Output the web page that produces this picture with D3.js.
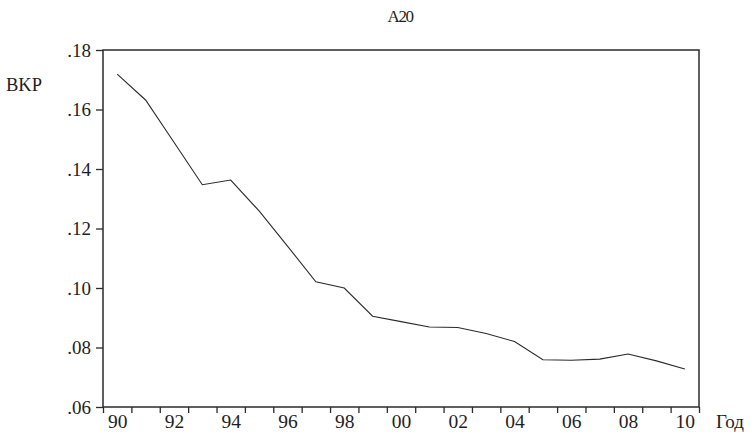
<!DOCTYPE html>
<html>
<head>
<meta charset="utf-8">
<script src="https://cdn.jsdelivr.net/npm/d3@7"></script>
<style>
  body { margin: 0; background: #fff; }
  text { font-family: "Liberation Serif", "Times New Roman", serif; fill: #1e1e1e; }
</style>
</head>
<body>
<div id="container"></div>
<script>
// Data
const years = [1990, 1991, 1992, 1993, 1994, 1995, 1996, 1997, 1998, 1999, 2000,
               2001, 2002, 2003, 2004, 2005, 2006, 2007, 2008, 2009, 2010];
const values = [0.1719, 0.1632, 0.1490, 0.1347, 0.1363, 0.1259, 0.1141, 0.1021, 0.1000, 0.0905, 0.0887,
                0.0869, 0.0867, 0.0847, 0.0820, 0.0759, 0.0757, 0.0761, 0.0778, 0.0755, 0.0728];
const yTicks = [0.06, 0.08, 0.10, 0.12, 0.14, 0.16, 0.18];
const yTickLabels = [".06", ".08", ".10", ".12", ".14", ".16", ".18"];
const xLabelYears = [1990, 1992, 1994, 1996, 1998, 2000, 2002, 2004, 2006, 2008, 2010];

const chartTitle = "A20";
const yTitle = "BKP";
const xTitle = "Год";

const totalWidth = 755;
const totalHeight = 435;
const margin = { top: 50, right: 56, bottom: 28, left: 103 };
const width = totalWidth - margin.left - margin.right;
const height = totalHeight - margin.top - margin.bottom;
const ink = "#2b2b2b";

const svg = d3.select("#container")
    .append("svg")
    .attr("width", totalWidth)
    .attr("height", totalHeight)
    .style("display", "block")
    .append("g")
    .attr("transform", "translate(" + margin.left + "," + margin.top + ")");

// Scales: each year owns a slot, ticks sit on slot borders
var x = d3.scaleLinear()
    .domain([years[0] - 0.5, years[years.length - 1] + 0.5])
    .range([0, width]);

var y = d3.scaleLinear()
    .domain([0.06, 0.18])
    .range([height, 0]);

// Y axis
var yAxis = svg.append("g")
    .call(d3.axisLeft(y).tickValues(yTicks)
        .tickFormat((d, i) => yTickLabels[i])
        .tickSize(7).tickPadding(5));
yAxis.select(".domain").remove();
yAxis.selectAll("line").attr("stroke", ink).attr("stroke-width", 1.3);
yAxis.selectAll("text")
    .style("font-family", "'Liberation Serif', serif")
    .style("font-size", "19px")
    .attr("fill", "#1e1e1e");

// X axis: tick marks on slot borders
var borders = d3.range(years[0] - 0.5, years[years.length - 1] + 1, 1);
var xAxis = svg.append("g")
    .attr("transform", "translate(0," + height + ")")
    .call(d3.axisBottom(x).tickValues(borders).tickFormat("").tickSize(6));
xAxis.select(".domain").remove();
xAxis.selectAll("line").attr("stroke", ink).attr("stroke-width", 1.3);

// X labels at slot centres
svg.append("g")
    .attr("transform", "translate(0," + height + ")")
    .call(d3.axisBottom(x).tickValues(xLabelYears)
        .tickFormat(d => String(d % 100).padStart(2, "0"))
        .tickSize(0).tickPadding(7))
    .call(g => g.select(".domain").remove())
    .selectAll("text")
    .style("font-family", "'Liberation Serif', serif")
    .style("font-size", "19.5px")
    .attr("fill", "#1e1e1e");

// Frame
svg.append("rect")
    .attr("x", 0)
    .attr("y", 0)
    .attr("width", width)
    .attr("height", height)
    .attr("fill", "none")
    .attr("stroke", ink)
    .attr("stroke-width", 1.5);

// Series line
svg.append("path")
    .datum(years.map((yr, i) => ({ x: yr, y: values[i] })))
    .attr("fill", "none")
    .attr("stroke", ink)
    .attr("stroke-width", 1.1)
    .attr("d", d3.line()
        .x(d => x(d.x))
        .y(d => y(d.y)));

// Title
svg.append("text")
    .attr("x", width / 2 - 1)
    .attr("y", -margin.top + 22)
    .attr("text-anchor", "middle")
    .style("font-size", "17px")
    .style("letter-spacing", "-1.5px")
    .text(chartTitle);

// Y axis title
svg.append("text")
    .attr("x", -margin.left + 6)
    .attr("y", 41)
    .style("font-size", "18.5px")
    .text(yTitle);

// X axis title
svg.append("text")
    .attr("x", width + 17)
    .attr("y", height + 21)
    .style("font-size", "19px")
    .text(xTitle);
</script>
</body>
</html>
